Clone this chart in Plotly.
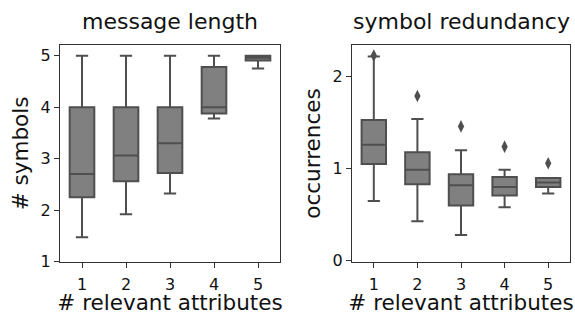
import plotly.graph_objects as go

cats = ["1", "2", "3", "4", "5"]

# message length (# symbols)
len_low = [1.47, 1.92, 2.32, 3.78, 4.755]
len_q1 = [2.25, 2.56, 2.72, 3.88, 4.91]
len_med = [2.70, 3.06, 3.30, 4.00, 4.96]
len_q3 = [4.00, 4.00, 4.00, 4.78, 5.00]
len_high = [5.00, 5.00, 5.00, 5.00, 5.00]

# symbol redundancy (occurrences)
red_low = [0.65, 0.43, 0.28, 0.58, 0.73]
red_q1 = [1.05, 0.83, 0.60, 0.71, 0.80]
red_med = [1.26, 0.99, 0.82, 0.80, 0.85]
red_q3 = [1.53, 1.18, 0.94, 0.91, 0.90]
red_high = [2.22, 1.54, 1.20, 0.99, 0.90]
red_out_x = ["1", "2", "3", "4", "5"]
red_out_y = [2.23, 1.79, 1.46, 1.24, 1.06]

FILL = "#808080"
LINE = "#4f4f4f"
FONT = "DejaVu Sans"
TXT = "#111111"

fig = go.Figure()
fig.add_trace(go.Box(x=cats, q1=len_q1, median=len_med, q3=len_q3,
                     lowerfence=len_low, upperfence=len_high,
                     fillcolor=FILL, line=dict(color=LINE, width=2),
                     whiskerwidth=0.5, xaxis="x", yaxis="y", showlegend=False,
                     boxpoints=False, hoverinfo="skip"))
fig.add_trace(go.Box(x=cats, q1=red_q1, median=red_med, q3=red_q3,
                     lowerfence=red_low, upperfence=red_high,
                     fillcolor=FILL, line=dict(color=LINE, width=2),
                     whiskerwidth=0.5, xaxis="x2", yaxis="y2", showlegend=False,
                     boxpoints=False, hoverinfo="skip"))
fig.add_trace(go.Scatter(x=red_out_x, y=red_out_y, mode="markers",
                         marker=dict(symbol="diamond-tall", size=9, color=LINE),
                         xaxis="x2", yaxis="y2", showlegend=False, hoverinfo="skip"))

axis_common = dict(showline=True, linecolor="#333333", linewidth=1, mirror=True,
                   ticks="outside", ticklen=5, tickcolor="#333333",
                   showgrid=False, zeroline=False, automargin=False,
                   tickfont=dict(family=FONT, size=16, color=TXT))

LBL = 21.5

fig.update_layout(
    width=575, height=315,
    margin=dict(l=60, r=5, t=45, b=53),
    plot_bgcolor="white", paper_bgcolor="white",
    boxgap=0.2,
    font=dict(family=FONT, color=TXT),
    xaxis=dict(domain=[0, 220 / 510], type="category", range=[-0.5, 4.5],
               ticklabelstandoff=3,
               title=dict(text="# relevant attributes", font=dict(size=LBL), standoff=2),
               **axis_common),
    yaxis=dict(range=[0.99, 5.21], tickvals=[1, 2, 3, 4, 5],
               title=dict(text="# symbols", font=dict(size=LBL), standoff=6),
               **axis_common),
    xaxis2=dict(domain=[292 / 510, 1], type="category", range=[-0.5, 4.5],
                anchor="y2", ticklabelstandoff=3,
                title=dict(text="# relevant attributes", font=dict(size=LBL), standoff=2),
                **axis_common),
    yaxis2=dict(range=[-0.014, 2.345], tickvals=[0, 1, 2], anchor="x2",
                title=dict(text="occurrences", font=dict(size=LBL), standoff=6),
                **axis_common),
    annotations=[
        dict(text="message length", x=(0 + 220 / 510) / 2, y=1, xref="paper", yref="paper",
             xanchor="center", yanchor="bottom", yshift=9, showarrow=False,
             font=dict(family=FONT, size=22, color=TXT)),
        dict(text="symbol redundancy", x=(292 / 510 + 1) / 2, y=1, xref="paper", yref="paper",
             xanchor="center", yanchor="bottom", yshift=9, showarrow=False,
             font=dict(family=FONT, size=22, color=TXT)),
    ],
)

# remove the default page margin so the 575x315 figure fills the window exactly
fig.write_html("out.html", config={"displayModeBar": False, "staticPlot": True},
               post_script="document.body.style.margin='0';document.body.style.overflow='hidden';")
